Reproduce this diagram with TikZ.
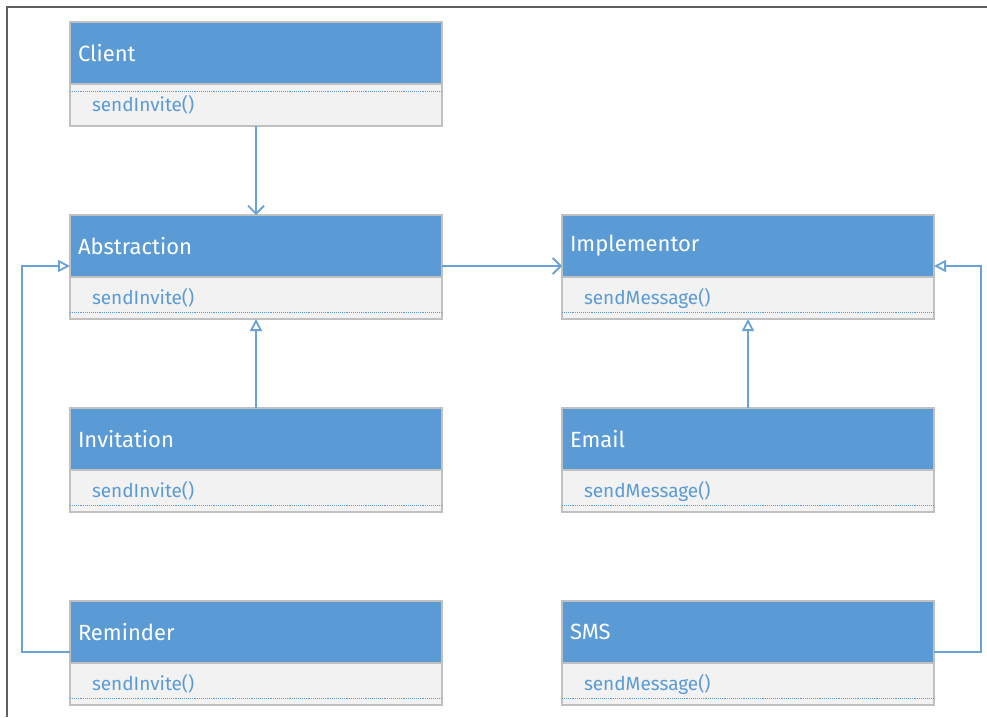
\documentclass[tikz,border=0pt]{standalone}
\usepackage{fontspec}
\setmainfont{Fira Sans}
\usetikzlibrary{positioning,arrows.meta}
\definecolor{headcol}{RGB}{91,155,213}
\definecolor{linkcol}{RGB}{104,162,216}
\definecolor{edgecol}{RGB}{192,192,192}
\definecolor{opscol}{RGB}{242,242,242}
\definecolor{framecol}{RGB}{95,95,95}

\begin{document}
\begin{tikzpicture}[x=1pt, y=-1pt,
    head/.style={draw=edgecol, line width=1.2pt, fill=headcol, text=white, anchor=north west,
        minimum width=372pt, minimum height=62pt, text width=356pt, inner xsep=8pt, outer sep=0pt,
        align=left, font=\fontsize{22}{26}\selectfont},
    ops/.style={draw=edgecol, line width=1.2pt, fill=opscol, text=headcol,
        minimum width=372pt, minimum height=42pt, text width=328pt, inner xsep=22pt, outer sep=0pt,
        align=left, font=\fontsize{19}{22}\selectfont},
    dotline/.style={headcol, line width=0.9pt, densely dotted},
    assoc/.style={linkcol, line width=1.4pt, -{Straight Barb[length=8pt, width=16pt, line width=1.8pt]}},
    gen/.style={linkcol, line width=1.4pt, -{Triangle[open, length=12pt, width=12pt, fill=white, line width=1.8pt]}}]
    \useasboundingbox (0,0) rectangle (987,717);
    \fill[white] (0,0) rectangle (987,717);
    \draw[framecol, line width=2pt] (7,717) -- (7,7) -- (987,7);

    \foreach \n/\x/\y/\t/\m in {cli/70/22/Client/sendInvite(), abs/70/215/Abstraction/sendInvite(),
        imp/562/215/Implementor/sendMessage(), inv/70/408/Invitation/sendInvite(),
        ema/562/408/Email/sendMessage(), rem/70/601/Reminder/sendInvite(), sms/562/601/SMS/sendMessage()}{
        \node[head] (\n head) at (\x,\y) {\t};
        \node[ops, below=0pt of \n head] (\n ops) {\m};
    }
    % Client has its dotted rule on top, the others at the bottom
    \draw[dotline] ([yshift=-7pt]cliops.north west) -- ([yshift=-7pt]cliops.north east);
    \foreach \n in {abs,imp,inv,ema,rem,sms}
        \draw[dotline] ([yshift=7pt]\n ops.south west) -- ([yshift=7pt]\n ops.south east);

    \draw[assoc] (cliops) -- (abshead);
    \draw[assoc] ([yshift=11pt]abshead.south east) -- ([yshift=11pt]imphead.south west);
    \draw[gen] (invhead) -- (absops);
    \draw[gen] (emahead) -- (impops);
    \draw[gen] ([yshift=11pt]remhead.south west) -- ++(-48,0) |- ([yshift=11pt]abshead.south west);
    \draw[gen] ([yshift=11pt]smshead.south east) -- ++(47,0) |- ([yshift=11pt]imphead.south east);
\end{tikzpicture}
\end{document}
